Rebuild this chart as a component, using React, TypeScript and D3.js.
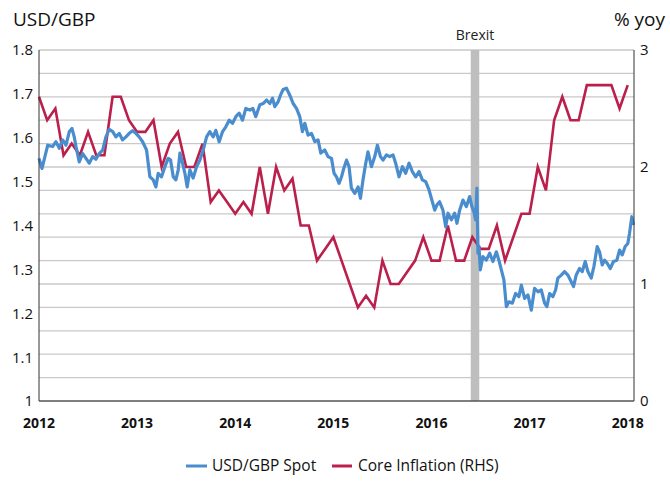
import * as React from 'react';
import * as d3 from 'd3';

// USD/GBP spot (decimal year, value)
const spotYears = [
  2012.000, 2012.031, 2012.089, 2012.139, 2012.173, 2012.207, 2012.241, 2012.275, 2012.309, 2012.336,
  2012.359, 2012.377, 2012.410, 2012.445, 2012.479, 2012.512, 2012.547, 2012.580, 2012.614, 2012.649,
  2012.682, 2012.716, 2012.751, 2012.784, 2012.818, 2012.852, 2012.886, 2012.920, 2012.954, 2012.988,
  2013.021, 2013.056, 2013.096, 2013.130, 2013.164, 2013.191, 2013.215, 2013.249, 2013.283, 2013.317,
  2013.341, 2013.368, 2013.395, 2013.419, 2013.436, 2013.463, 2013.487, 2013.510, 2013.538, 2013.571,
  2013.606, 2013.640, 2013.673, 2013.708, 2013.741, 2013.775, 2013.802, 2013.836, 2013.871, 2013.904,
  2013.938, 2013.973, 2014.006, 2014.040, 2014.074, 2014.108, 2014.149, 2014.179, 2014.209, 2014.251,
  2014.284, 2014.319, 2014.352, 2014.380, 2014.403, 2014.437, 2014.461, 2014.488, 2014.522, 2014.556,
  2014.590, 2014.624, 2014.658, 2014.685, 2014.709, 2014.742, 2014.777, 2014.811, 2014.844, 2014.872,
  2014.912, 2014.946, 2014.981, 2015.007, 2015.032, 2015.058, 2015.083, 2015.106, 2015.134, 2015.160,
  2015.184, 2015.218, 2015.252, 2015.276, 2015.302, 2015.330, 2015.353, 2015.388, 2015.422, 2015.449,
  2015.480, 2015.506, 2015.541, 2015.574, 2015.608, 2015.635, 2015.669, 2015.704, 2015.737, 2015.771,
  2015.805, 2015.839, 2015.873, 2015.907, 2015.941, 2015.975, 2016.009, 2016.033, 2016.056, 2016.083,
  2016.117, 2016.145, 2016.168, 2016.203, 2016.236, 2016.260, 2016.287, 2016.321, 2016.355, 2016.389,
  2016.412, 2016.433, 2016.450, 2016.463, 2016.474, 2016.484, 2016.498, 2016.524, 2016.559, 2016.593,
  2016.626, 2016.661, 2016.687, 2016.712, 2016.738, 2016.763, 2016.789, 2016.824, 2016.857, 2016.891,
  2016.916, 2016.949, 2016.983, 2017.017, 2017.051, 2017.085, 2017.119, 2017.153, 2017.176, 2017.204,
  2017.237, 2017.265, 2017.288, 2017.323, 2017.356, 2017.390, 2017.424, 2017.448, 2017.475, 2017.509,
  2017.537, 2017.567, 2017.594, 2017.628, 2017.655, 2017.689, 2017.713, 2017.740, 2017.764, 2017.791,
  2017.822, 2017.855, 2017.889, 2017.917, 2017.944, 2017.974, 2018.001, 2018.018, 2018.042, 2018.059,
];
const spotValues = [
  1.553, 1.530, 1.583, 1.580, 1.591, 1.576, 1.595, 1.583, 1.614, 1.621,
  1.602, 1.580, 1.545, 1.564, 1.553, 1.542, 1.557, 1.551, 1.564, 1.572,
  1.602, 1.619, 1.614, 1.602, 1.610, 1.595, 1.602, 1.610, 1.616, 1.610,
  1.602, 1.591, 1.572, 1.511, 1.504, 1.488, 1.519, 1.511, 1.534, 1.553,
  1.549, 1.511, 1.504, 1.527, 1.565, 1.542, 1.519, 1.488, 1.527, 1.508,
  1.534, 1.549, 1.572, 1.602, 1.614, 1.602, 1.617, 1.591, 1.614, 1.625,
  1.640, 1.633, 1.648, 1.656, 1.640, 1.667, 1.663, 1.667, 1.648, 1.675,
  1.678, 1.686, 1.678, 1.690, 1.671, 1.682, 1.697, 1.710, 1.713, 1.697,
  1.678, 1.667, 1.648, 1.614, 1.633, 1.606, 1.610, 1.591, 1.595, 1.565,
  1.572, 1.557, 1.553, 1.519, 1.511, 1.496, 1.511, 1.530, 1.549, 1.534,
  1.485, 1.473, 1.488, 1.462, 1.504, 1.542, 1.568, 1.534, 1.557, 1.583,
  1.557, 1.549, 1.561, 1.557, 1.561, 1.542, 1.511, 1.534, 1.519, 1.542,
  1.523, 1.511, 1.523, 1.504, 1.500, 1.481, 1.454, 1.435, 1.447, 1.454,
  1.435, 1.397, 1.428, 1.413, 1.428, 1.405, 1.435, 1.458, 1.443, 1.466,
  1.443, 1.431, 1.413, 1.485, 1.337, 1.352, 1.299, 1.329, 1.321, 1.337,
  1.318, 1.340, 1.321, 1.299, 1.276, 1.215, 1.226, 1.223, 1.245, 1.238,
  1.264, 1.234, 1.242, 1.207, 1.257, 1.249, 1.253, 1.223, 1.215, 1.245,
  1.238, 1.253, 1.280, 1.287, 1.295, 1.287, 1.272, 1.261, 1.287, 1.302,
  1.295, 1.318, 1.295, 1.280, 1.306, 1.352, 1.340, 1.310, 1.321, 1.314,
  1.302, 1.318, 1.321, 1.344, 1.333, 1.352, 1.359, 1.382, 1.420, 1.401,
];

// UK core inflation % yoy, monthly Jan 2012 - Jan 2018
const coreStartYear = 2012;
const coreValues = [
  2.6, 2.4, 2.5, 2.1, 2.2, 2.1, 2.3, 2.1, 2.1, 2.6, 2.6, 2.4,
  2.3, 2.3, 2.4, 2.0, 2.2, 2.3, 2.0, 2.0, 2.2, 1.7, 1.8, 1.7,
  1.6, 1.7, 1.6, 2.0, 1.6, 2.0, 1.8, 1.9, 1.5, 1.5, 1.2, 1.3,
  1.4, 1.2, 1.0, 0.8, 0.9, 0.8, 1.2, 1.0, 1.0, 1.1, 1.2, 1.4,
  1.2, 1.2, 1.5, 1.2, 1.2, 1.4, 1.3, 1.3, 1.5, 1.2, 1.4, 1.6,
  1.6, 2.0, 1.8, 2.4, 2.6, 2.4, 2.4, 2.7, 2.7, 2.7, 2.7, 2.5,
  2.7,
];

const yearTicks = [2012, 2013, 2014, 2015, 2016, 2017, 2018];
const leftTicks = [1, 1.1, 1.2, 1.3, 1.4, 1.5, 1.6, 1.7, 1.8];
const rightTicks = [0, 1, 2, 3];
const brexitSpan = [2016.40, 2016.487];

const BLUE = '#4a8dce';
const RED = '#bb1f4c';
const FONT = "'Open Sans', 'Noto Sans', sans-serif";

export default function App() {
  const width = 670, height = 486;
  const left = 39, right = 634, top = 50, bottom = 401;

  const x = d3.scaleLinear().domain([2012, 2018.064]).range([left, right]);
  const yL = d3.scaleLinear().domain([1, 1.8]).range([bottom, top]);
  const yR = d3.scaleLinear().domain([0, 3]).range([bottom, top]);

  // gridlines split the plot into 10 equal bands
  const grid = yR.ticks(10).filter(d => d > 0);

  const spot = spotYears.map((t, i) => [t, spotValues[i]] as [number, number]);
  const core = coreValues.map((v, i) => [coreStartYear + i / 12, v] as [number, number]);

  const spotLine = d3.line<[number, number]>().x(d => x(d[0])).y(d => yL(d[1]));
  const coreLine = d3.line<[number, number]>().x(d => x(d[0])).y(d => yR(d[1]));

  return (
    <svg width={width} height={height} style={{ position: 'absolute', left: 0, top: 0, background: '#fff' }}
      fontFamily={FONT}>
      {grid.map(g => (
        <line key={g} x1={left} x2={right} y1={yR(g)} y2={yR(g)} stroke="#c9c9c9" strokeWidth={1.3} />
      ))}
      <rect x={x(brexitSpan[0])} y={top} width={x(brexitSpan[1]) - x(brexitSpan[0])} height={bottom - top}
        fill="#bebebe" />
      <text x={(x(brexitSpan[0]) + x(brexitSpan[1])) / 2} y={40} textAnchor="middle" fontSize={14} fill="#222">
        Brexit
      </text>

      <path d={coreLine(core) ?? ''} fill="none" stroke={RED} strokeWidth={2.6} strokeLinejoin="miter" />
      <path d={spotLine(spot) ?? ''} fill="none" stroke={BLUE} strokeWidth={3.2} strokeLinejoin="round" />

      <line x1={left} x2={left} y1={top} y2={bottom} stroke="#333" strokeWidth={1} />
      <line x1={right} x2={right} y1={top} y2={bottom} stroke="#333" strokeWidth={1} />
      <line x1={left} x2={right} y1={bottom} y2={bottom} stroke="#555" strokeWidth={1.3} />

      {leftTicks.map(t => (
        <text key={t} x={33} y={yL(t)} dy="0.36em" textAnchor="end" fontSize={15} fill="#111">
          {t === 1 ? '1' : t.toFixed(1)}
        </text>
      ))}
      {rightTicks.map(t => (
        <text key={t} x={640} y={yR(t)} dy="0.36em" textAnchor="start" fontSize={15} fill="#111">
          {t}
        </text>
      ))}
      {yearTicks.map(t => (
        <text key={t} x={x(t)} y={428} textAnchor="middle" fontSize={14} fontWeight="bold" fill="#111">
          {t}
        </text>
      ))}

      <text x={13} y={26} fontSize={19} fill="#111">USD/GBP</text>
      <text x={665} y={26} textAnchor="end" fontSize={19} fill="#111">% yoy</text>

      <line x1={186} x2={207} y1={466} y2={466} stroke={BLUE} strokeWidth={3} />
      <text x={212} y={466} dy="0.35em" fontSize={15.5} fill="#111">USD/GBP Spot</text>
      <line x1={332} x2={352} y1={466} y2={466} stroke={RED} strokeWidth={3} />
      <text x={358} y={466} dy="0.35em" fontSize={15.5} fill="#111">Core Inflation (RHS)</text>
    </svg>
  );
}
